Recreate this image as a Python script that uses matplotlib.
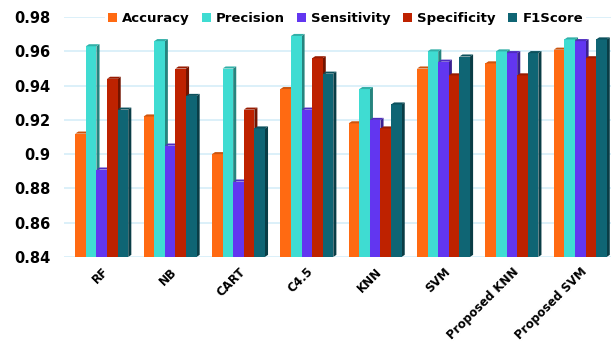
import numpy as np
import matplotlib
matplotlib.use("Agg")
import matplotlib.pyplot as plt
from matplotlib.patches import Polygon
from matplotlib.colors import to_rgb

# data
models = ['RF', 'NB', 'CART', 'C4.5', 'KNN', 'SVM', 'Proposed KNN', 'Proposed SVM']
accuracy = [0.912, 0.922, 0.900, 0.938, 0.918, 0.950, 0.953, 0.961]
precision = [0.963, 0.966, 0.950, 0.969, 0.938, 0.960, 0.960, 0.967]
sensitivity = [0.891, 0.905, 0.884, 0.926, 0.920, 0.954, 0.959, 0.966]
specificity = [0.944, 0.950, 0.926, 0.956, 0.915, 0.946, 0.946, 0.956]
f1score = [0.926, 0.934, 0.915, 0.947, 0.929, 0.957, 0.959, 0.967]

series = {
    'Accuracy': accuracy,
    'Precision': precision,
    'Sensitivity': sensitivity,
    'Specificity': specificity,
    'F1Score': f1score,
}
colors = ['#FF6A12', '#3FDCD2', '#6236F0', '#BE2200', '#0F6574']

plt.rcParams['font.family'] = 'DejaVu Sans'
fig = plt.figure(figsize=(6.11, 3.43), dpi=100)
ax = fig.add_axes([0.105, 0.251, 0.895, 0.699])

x = np.arange(len(models))
w = 0.155
depth = 0.045      # 3d side width (data units)
rise = 0.0012      # 3d top rise

def darker(c, f):
    r, g, b = to_rgb(c)
    return (r * f, g * f, b * f)

for i, (name, vals) in enumerate(series.items()):
    xs = x - 2 * w + i * w
    col = colors[i]
    ax.bar(xs, np.array(vals) - 0.84, width=w, bottom=0.84, color=col,
           label=name, zorder=3, align='center', linewidth=0)
    for xc, v in zip(xs, vals):
        x1 = xc + w / 2
        side = Polygon([(x1, 0.84), (x1 + depth, 0.84 + rise), (x1 + depth, v + rise), (x1, v)],
                       closed=True, facecolor=darker(col, 0.6), edgecolor='none', zorder=2)
        top = Polygon([(x1 - w, v), (x1, v), (x1 + depth, v + rise), (x1 - w + depth, v + rise)],
                      closed=True, facecolor=darker(col, 0.8), edgecolor='none', zorder=3)
        ax.add_patch(side)
        ax.add_patch(top)

ax.set_xlim(-0.55, 7.45)
ax.set_ylim(0.84, 0.98)
ticks = [0.84, 0.86, 0.88, 0.9, 0.92, 0.94, 0.96, 0.98]
ax.set_yticks(ticks)
ax.set_yticklabels(['%g' % t for t in ticks], fontsize=10.5, fontweight='bold')
ax.set_xticks(x)
ax.set_xticklabels(models, rotation=45, ha='right', rotation_mode='anchor',
                   fontsize=8.5, fontweight='bold')
ax.tick_params(length=0, pad=10, axis='y')
ax.tick_params(length=0, pad=6, axis='x')
ax.yaxis.grid(True, color='#D6EEF8', linewidth=1.2, zorder=0)
for s in ax.spines.values():
    s.set_visible(False)

leg = ax.legend(loc='upper center', bbox_to_anchor=(0.514, 1.06), ncol=5, frameon=True,
                handlelength=0.7, handleheight=0.7, handletextpad=0.4, columnspacing=0.9,
                prop={'weight': 'bold', 'size': 9.5}, borderpad=0.2)
leg.get_frame().set_facecolor('white')
leg.get_frame().set_edgecolor('none')
leg.get_frame().set_alpha(1)
leg.set_zorder(5)

fig.savefig('out.png', dpi=100)
